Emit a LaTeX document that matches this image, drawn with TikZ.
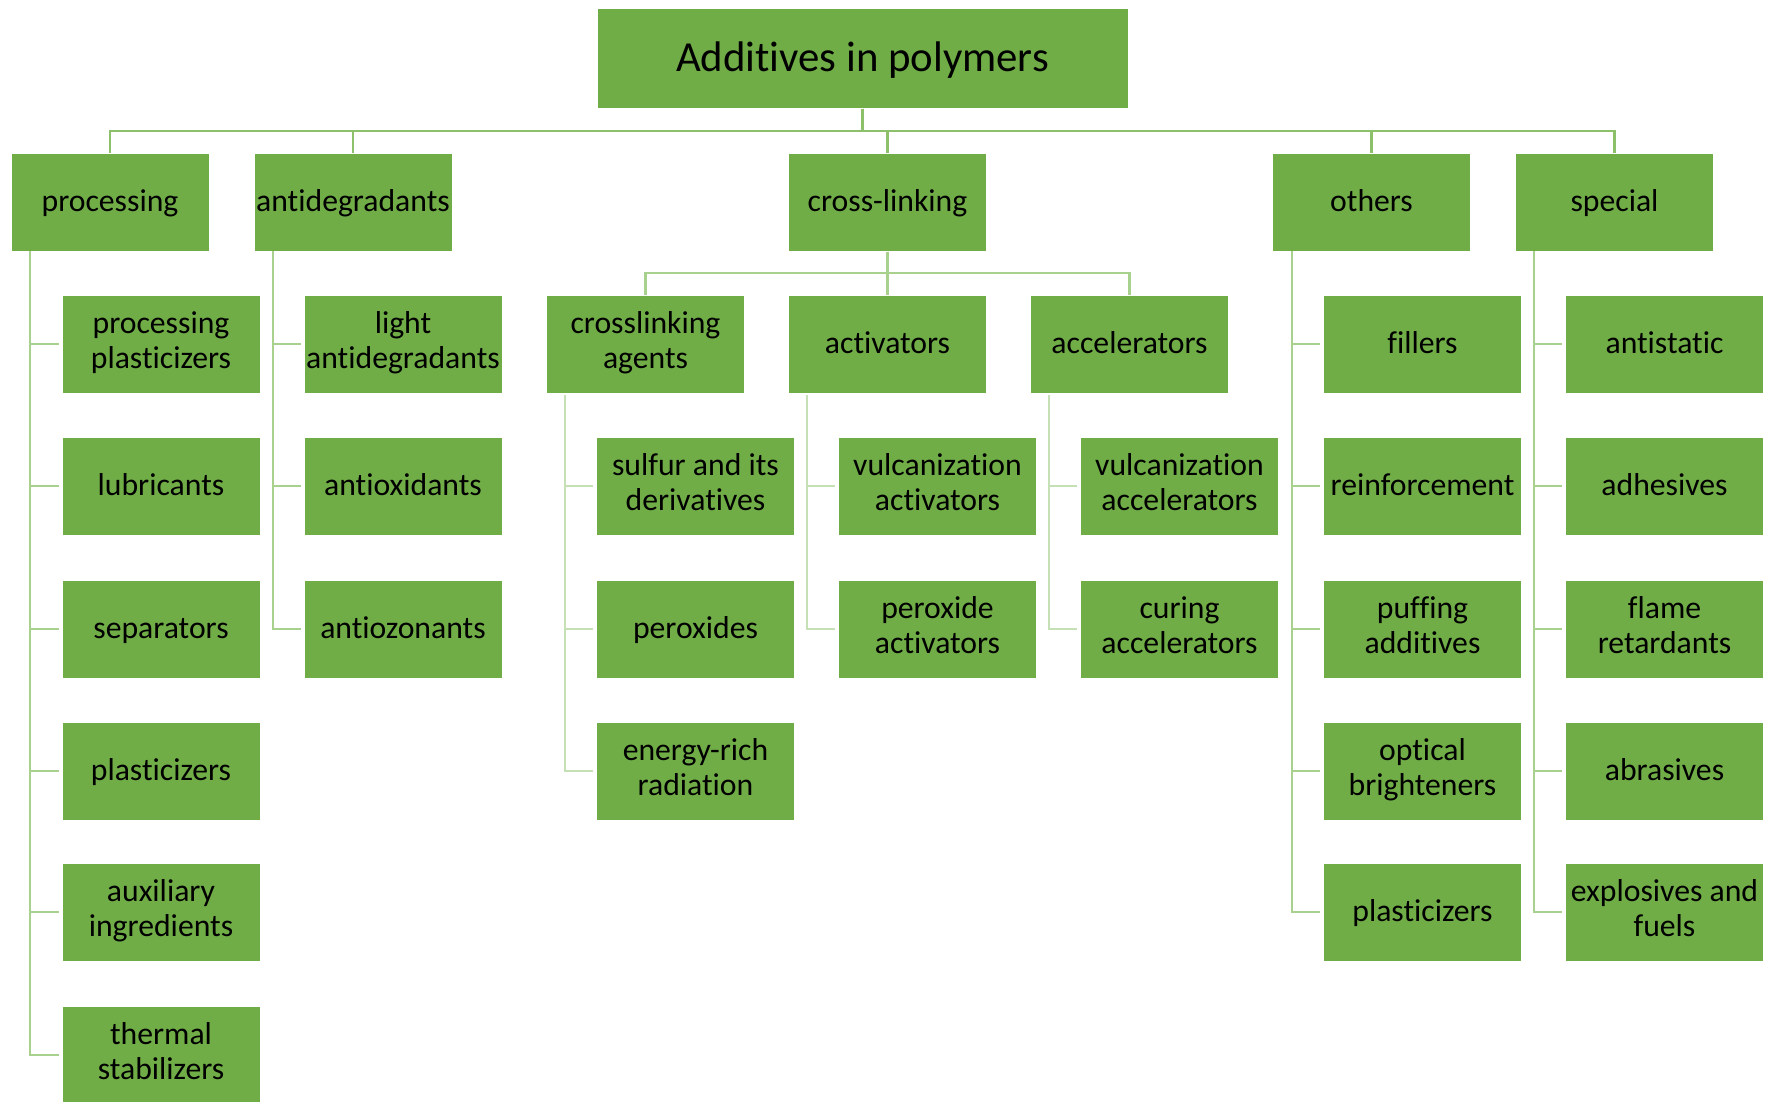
\documentclass[tikz,border=0pt]{standalone}
\usepackage{fontspec}
\setmainfont{Carlito}[Ligatures=NoCommon]
\definecolor{boxgreen}{HTML}{70AD47}
\definecolor{busgreen}{HTML}{8CC06A}
\definecolor{subgreen}{HTML}{A9D18E}
\definecolor{leafgreen}{HTML}{C5E0B4}
\newcommand\boxstrut{\rule[-8.25pt]{0pt}{35pt}}
\newcommand\titlestrut{\rule[-10.8pt]{0pt}{47.6pt}}
\begin{document}
\begin{tikzpicture}[x=1pt,y=-1pt,
  box/.style={fill=boxgreen, draw=white, line width=1pt, inner sep=0pt,
    minimum width=198pt, minimum height=98pt, align=center,
    font=\fontsize{31.7}{35}\selectfont, text=black,
    execute at begin node=\boxstrut, execute at end node=\boxstrut},
  titlebox/.style={fill=boxgreen, draw=white, line width=1pt, inner sep=0pt,
    minimum width=531pt, minimum height=100pt, align=center,
    font=\fontsize{42.8}{48}\selectfont, text=black,
    execute at begin node=\titlestrut},
  bus/.style={draw=busgreen, line width=2.7pt},
  sub/.style={draw=subgreen, line width=2.7pt},
  leaf/.style={draw=leafgreen, line width=2.7pt}]
\useasboundingbox (0,0) rectangle (1765,1101);

% root and first level
\node[titlebox] (root) at (862.5,58) {Additives in polymers};
\node[box] (proc) at (110,202) {processing};
\node[box] (anti) at (353,202) {antidegradants};
\node[box] (cross) at (887.5,202) {cross-linking};
\node[box] (oth) at (1371.5,202) {others};
\node[box] (spec) at (1614.5,202) {special};

\coordinate (rootbus) at (862.5,131);
\foreach \n in {proc,anti,cross,oth,spec}
  \draw[bus] (root.south) -- (rootbus) -| (\n.north);

% processing
\node[box] (p1) at (161,344) {processing\\plasticizers};
\node[box] (p2) at (161,486) {lubricants};
\node[box] (p3) at (161,629) {separators};
\node[box] (p4) at (161,771) {plasticizers};
\node[box] (p5) at (161,912) {auxiliary\\ingredients};
\node[box] (p6) at (161,1055) {thermal\\stabilizers};
\coordinate (procL) at (30,251);
\foreach \n in {p1,p2,p3,p4,p5,p6}
  \draw[sub] (procL) |- ([xshift=-3pt]\n.west);

% antidegradants
\node[box] (a1) at (403,344) {light\\antidegradants};
\node[box] (a2) at (403,486) {antioxidants};
\node[box] (a3) at (403,629) {antiozonants};
\coordinate (antiL) at (273,251);
\foreach \n in {a1,a2,a3}
  \draw[sub] (antiL) |- ([xshift=-3pt]\n.west);

% cross-linking
\node[box] (c1) at (645.5,344) {crosslinking\\agents};
\node[box] (c2) at (887.5,344) {activators};
\node[box] (c3) at (1129.5,344) {accelerators};
\coordinate (crossbus) at (887.5,273);
\foreach \n in {c1,c2,c3}
  \draw[sub] (cross.south) -- (crossbus) -| (\n.north);

\node[box] (c11) at (695.5,486) {sulfur and its\\derivatives};
\node[box] (c12) at (695.5,629) {peroxides};
\node[box] (c13) at (695.5,771) {energy-rich\\radiation};
\coordinate (c1L) at (565,395);
\foreach \n in {c11,c12,c13}
  \draw[leaf] (c1L) |- ([xshift=-3pt]\n.west);

\node[box] (c21) at (937.5,486) {vulcanization\\activators};
\node[box] (c22) at (937.5,629) {peroxide\\activators};
\coordinate (c2L) at (807,395);
\foreach \n in {c21,c22}
  \draw[leaf] (c2L) |- ([xshift=-3pt]\n.west);

\node[box] (c31) at (1179.5,486) {vulcanization\\accelerators};
\node[box] (c32) at (1179.5,629) {curing\\accelerators};
\coordinate (c3L) at (1049,395);
\foreach \n in {c31,c32}
  \draw[leaf] (c3L) |- ([xshift=-3pt]\n.west);

% others
\node[box] (o1) at (1422.5,344) {fillers};
\node[box] (o2) at (1422.5,486) {reinforcement};
\node[box] (o3) at (1422.5,629) {puffing\\additives};
\node[box] (o4) at (1422.5,771) {optical\\brighteners};
\node[box] (o5) at (1422.5,912) {plasticizers};
\coordinate (othL) at (1292,251);
\foreach \n in {o1,o2,o3,o4,o5}
  \draw[sub] (othL) |- ([xshift=-3pt]\n.west);

% special
\node[box] (s1) at (1664.5,344) {antistatic};
\node[box] (s2) at (1664.5,486) {adhesives};
\node[box] (s3) at (1664.5,629) {flame\\retardants};
\node[box] (s4) at (1664.5,771) {abrasives};
\node[box] (s5) at (1664.5,912) {explosives and\\fuels};
\coordinate (specL) at (1534,251);
\foreach \n in {s1,s2,s3,s4,s5}
  \draw[sub] (specL) |- ([xshift=-3pt]\n.west);
\end{tikzpicture}
\end{document}
